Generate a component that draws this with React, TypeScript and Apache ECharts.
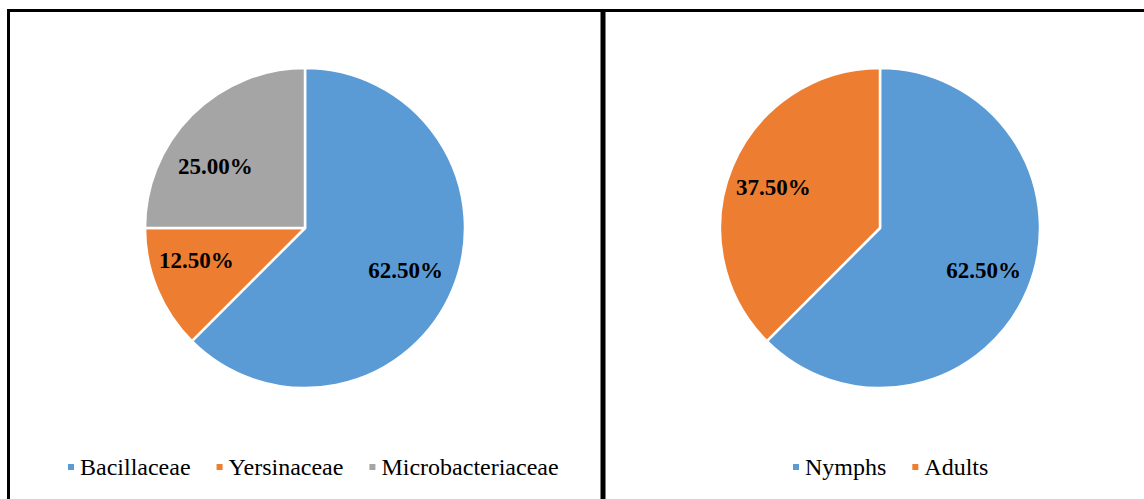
import React, { useEffect, useRef } from "react";
import * as echarts from "echarts";

const familyNames = ["Bacillaceae", "Yersinaceae", "Microbacteriaceae"];
const familyValues = [62.5, 12.5, 25.0];
const stageNames = ["Nymphs", "Adults"];
const stageValues = [62.5, 37.5];
const colors = ["#5B9BD5", "#ED7D31", "#A5A5A5"];

const familyOffsets = [[24, 11], [-32, 1], [-31, -3]];
const stageOffsets = [[27, 11], [-30, -9]];

const serif = "Liberation Serif";

export default function App() {
  const ref = useRef<HTMLDivElement>(null);
  useEffect(() => {
    const chart = echarts.init(ref.current!, null, { renderer: "svg" });
    const labelStyle = {
      show: true,
      position: "inside",
      formatter: (p: any) => p.value.toFixed(2) + "%",
      fontFamily: serif,
      fontWeight: "bold",
      fontSize: 23,
      color: "#000",
    };
    const legendText = { fontFamily: serif, fontSize: 24, color: "#000" };
    chart.setOption({
      animation: false,
      color: colors,
      legend: [
        {
          data: familyNames,
          left: 61,
          top: 450,
          itemWidth: 8,
          itemHeight: 8,
          itemGap: 24,
          icon: "rect",
          textStyle: legendText,
        },
        {
          data: stageNames,
          left: 786,
          top: 450,
          itemWidth: 8,
          itemHeight: 8,
          itemGap: 24,
          icon: "rect",
          textStyle: legendText,
        },
      ],
      graphic: [
        { type: "line", shape: { x1: 7, y1: 10.5, x2: 1144, y2: 10.5 }, style: { stroke: "#000", lineWidth: 3 } },
        { type: "line", shape: { x1: 8.5, y1: 9, x2: 8.5, y2: 499 }, style: { stroke: "#000", lineWidth: 3 } },
        { type: "line", shape: { x1: 603, y1: 9, x2: 603, y2: 499 }, style: { stroke: "#000", lineWidth: 5 } },
      ],
      series: [
        {
          type: "pie",
          center: [305, 228],
          radius: [0, 160],
          startAngle: 90,
          clockwise: true,
          itemStyle: { borderColor: "#fff", borderWidth: 2.5 },
          label: labelStyle,
          labelLine: { show: false },
          emphasis: { disabled: true },
          data: familyNames.map((n, i) => ({
            name: n,
            value: familyValues[i],
            label: { offset: familyOffsets[i] },
          })),
        },
        {
          type: "pie",
          center: [880, 228],
          radius: [0, 160],
          startAngle: 90,
          clockwise: true,
          itemStyle: { borderColor: "#fff", borderWidth: 2.5 },
          label: labelStyle,
          labelLine: { show: false },
          emphasis: { disabled: true },
          data: stageNames.map((n, i) => ({
            name: n,
            value: stageValues[i],
            label: { offset: stageOffsets[i] },
          })),
        },
      ],
    });
    return () => chart.dispose();
  }, []);
  return (
    <div
      ref={ref}
      style={{ position: "absolute", left: 0, top: 0, width: 1144, height: 499, background: "#fff" }}
    />
  );
}
